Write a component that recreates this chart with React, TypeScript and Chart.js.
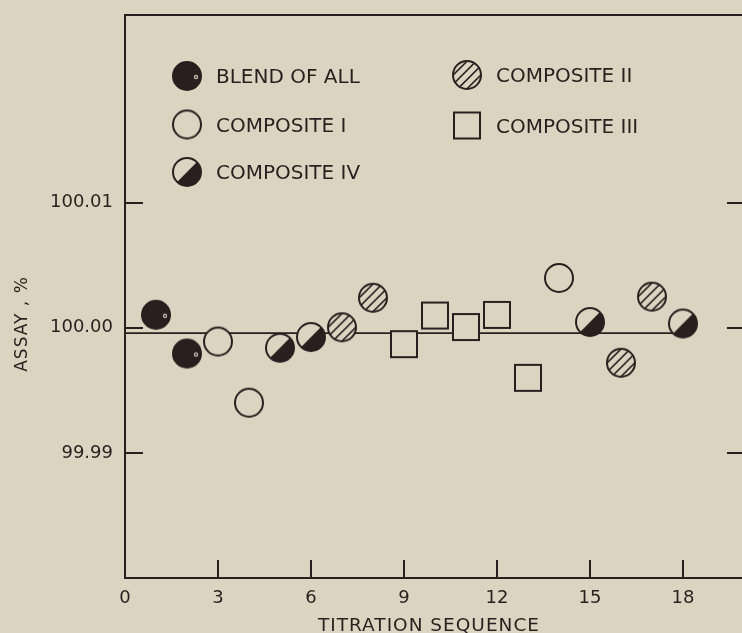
import React, { useEffect, useRef } from 'react';
import { Chart, registerables } from 'chart.js';

Chart.register(...registerables);

const INK = '#2a1f1f';
const BG = '#dcd3c1';

// Data
const BLEND_X = [1, 2];
const BLEND_Y = [100.00104, 99.99794];
const COMP1_X = [3, 4, 14];
const COMP1_Y = [99.9989, 99.99401, 100.00398];
const COMP2_X = [7, 8, 16, 17];
const COMP2_Y = [100.00004, 100.0024, 99.9972, 100.00249];
const COMP3_X = [9, 10, 11, 12, 13];
const COMP3_Y = [99.99869, 100.00098, 100.00006, 100.00103, 99.996];
const COMP4_X = [5, 6, 15, 18];
const COMP4_Y = [99.9984, 99.99926, 100.00046, 100.00034];
const MEAN_X = [0, 18];
const MEAN_Y = [99.99957, 99.99957];

const X_TICKS = [0, 3, 6, 9, 12, 15, 18];
const Y_TICKS = [99.99, 100.0, 100.01];

const SERIES_NAMES = ['BLEND OF ALL', 'COMPOSITE I', 'COMPOSITE IV', 'COMPOSITE II', 'COMPOSITE III'];
const SERIES_KINDS = ['blend', 'open', 'half', 'hatch', 'square'];

const X_TITLE = 'TITRATION SEQUENCE';
const Y_TITLE = 'ASSAY , %';

function makeMarker(kind: string): HTMLCanvasElement {
  const S = 36;
  const c = document.createElement('canvas');
  c.width = S;
  c.height = S;
  const g = c.getContext('2d') as CanvasRenderingContext2D;
  const cx = S / 2;
  const cy = S / 2;
  const r = 14;
  g.lineWidth = 2;
  g.strokeStyle = INK;
  if (kind === 'square') {
    const h = 13;
    g.fillStyle = BG;
    g.fillRect(cx - h, cy - h, 2 * h, 2 * h);
    g.strokeRect(cx - h, cy - h, 2 * h, 2 * h);
    return c;
  }
  g.beginPath();
  g.arc(cx, cy, r, 0, Math.PI * 2);
  g.fillStyle = kind === 'blend' ? INK : BG;
  g.fill();
  if (kind === 'half') {
    g.beginPath();
    g.arc(cx, cy, r, -Math.PI / 4, (3 * Math.PI) / 4);
    g.closePath();
    g.fillStyle = INK;
    g.fill();
  }
  if (kind === 'hatch') {
    g.save();
    g.beginPath();
    g.arc(cx, cy, r, 0, Math.PI * 2);
    g.clip();
    g.lineWidth = 1.6;
    for (const k of [-13.8, -4.6, 4.6, 13.8]) {
      g.beginPath();
      g.moveTo(cx + k / 2 - 20, cy + k / 2 + 20);
      g.lineTo(cx + k / 2 + 20, cy + k / 2 - 20);
      g.stroke();
    }
    g.restore();
  }
  g.beginPath();
  g.arc(cx, cy, r, 0, Math.PI * 2);
  g.lineWidth = 2;
  g.stroke();
  if (kind === 'blend') {
    g.beginPath();
    g.arc(cx + 9, cy + 1, 2.2, 0, Math.PI * 2);
    g.fillStyle = '#c9bfad';
    g.fill();
    g.beginPath();
    g.arc(cx + 9, cy + 1, 0.9, 0, Math.PI * 2);
    g.fillStyle = INK;
    g.fill();
  }
  return c;
}

function pts(xs: number[], ys: number[]) {
  return xs.map((x, i) => ({ x, y: ys[i] }));
}

function noPad(s: any) {
  s.paddingTop = 0;
  s.paddingBottom = 0;
  s.paddingLeft = 0;
  s.paddingRight = 0;
}

export default function App() {
  const ref = useRef<HTMLCanvasElement | null>(null);

  useEffect(() => {
    if (!ref.current) return;
    const markers: Record<string, HTMLCanvasElement> = {};
    SERIES_KINDS.forEach((k) => (markers[k] = makeMarker(k)));

    const seriesData = [
      pts(BLEND_X, BLEND_Y),
      pts(COMP1_X, COMP1_Y),
      pts(COMP4_X, COMP4_Y),
      pts(COMP2_X, COMP2_Y),
      pts(COMP3_X, COMP3_Y),
    ];

    const datasets: any[] = seriesData.map((d, i) => ({
      label: SERIES_NAMES[i],
      data: d,
      showLine: false,
      pointStyle: markers[SERIES_KINDS[i]],
      pointRadius: 14,
      order: 0,
    }));
    datasets.push({
      label: 'mean',
      data: pts(MEAN_X, MEAN_Y),
      showLine: true,
      borderColor: INK,
      borderWidth: 1.6,
      pointRadius: 0,
      order: 5,
    });

    const decor = {
      id: 'decor',
      afterDraw(chart: any) {
        const ctx = chart.ctx as CanvasRenderingContext2D;
        const { left, right, top, bottom } = chart.chartArea;
        const xs = chart.scales.x;
        const ys = chart.scales.y;
        ctx.save();
        ctx.strokeStyle = INK;
        ctx.lineWidth = 2;
        // top frame line
        ctx.beginPath();
        ctx.moveTo(left - 1, top);
        ctx.lineTo(right + 20, top);
        ctx.stroke();
        // inward tick marks
        const TL = 18;
        X_TICKS.forEach((v) => {
          if (v === 0) return;
          const px = Math.round(xs.getPixelForValue(v));
          ctx.beginPath();
          ctx.moveTo(px, bottom);
          ctx.lineTo(px, bottom - TL);
          ctx.stroke();
        });
        Y_TICKS.forEach((v) => {
          const py = Math.round(ys.getPixelForValue(v));
          ctx.beginPath();
          ctx.moveTo(left, py);
          ctx.lineTo(left + TL, py);
          ctx.moveTo(right - TL, py);
          ctx.lineTo(right, py);
          ctx.stroke();
        });
        // axis titles
        ctx.fillStyle = INK;
        ctx.font = '18.5px "DejaVu Sans"';
        (ctx as any).letterSpacing = '1px';
        ctx.textAlign = 'center';
        ctx.textBaseline = 'alphabetic';
        ctx.fillText(X_TITLE, 429, 631);
        ctx.save();
        ctx.translate(27, 324);
        ctx.rotate(-Math.PI / 2);
        ctx.font = '17px "DejaVu Sans"';
        ctx.fillText(Y_TITLE, 0, 0);
        ctx.restore();
        // legend
        (ctx as any).letterSpacing = '0px';
        ctx.font = '20px "DejaVu Sans"';
        ctx.textAlign = 'left';
        const legendPos = [
          [187, 76],
          [187, 124.5],
          [187, 172],
          [467, 75],
          [467, 125.5],
        ];
        SERIES_NAMES.forEach((name, i) => {
          const [mx, my] = legendPos[i];
          const m = markers[SERIES_KINDS[i]];
          ctx.drawImage(m, mx - m.width / 2, my - m.height / 2);
          ctx.fillText(name, mx + 29, my + 7.3);
        });
        ctx.restore();
      },
    };

    const chart = new Chart(ref.current, {
      type: 'scatter',
      data: { datasets },
      options: {
        animation: false,
        responsive: false,
        devicePixelRatio: 1,
        layout: { padding: { top: 12, right: 13.6, left: 0, bottom: 0 } },
        plugins: { legend: { display: false }, tooltip: { enabled: false } },
        scales: {
          x: {
            type: 'linear',
            min: 0,
            max: 20,
            afterFit: (s: any) => {
              s.height = 55;
              noPad(s);
            },
            afterBuildTicks: (s: any) => {
              s.ticks = X_TICKS.map((v) => ({ value: v }));
            },
            grid: { display: true, drawOnChartArea: false, drawTicks: false },
            border: { display: true, color: INK, width: 2 },
            ticks: {
              color: INK,
              padding: 10,
              maxRotation: 0,
              font: { family: 'DejaVu Sans', size: 18 },
              callback: (v: any) => String(v),
            },
          },
          y: {
            type: 'linear',
            min: 99.98,
            max: 100.025,
            afterFit: (s: any) => {
              s.width = 125;
              noPad(s);
            },
            afterBuildTicks: (s: any) => {
              s.ticks = Y_TICKS.map((v) => ({ value: v }));
            },
            grid: { display: true, drawOnChartArea: false, drawTicks: false },
            border: { display: true, color: INK, width: 2 },
            ticks: {
              color: INK,
              padding: 12,
              font: { family: 'DejaVu Sans', size: 18 },
              callback: (v: any) => Number(v).toFixed(2),
            },
          },
        },
      },
      plugins: [decor],
    } as any);

    return () => chart.destroy();
  }, []);

  return (
    <div
      style={{
        position: 'fixed',
        left: 0,
        top: 0,
        width: 742,
        height: 633,
        overflow: 'hidden',
        background: BG,
      }}
    >
      <canvas ref={ref} width={760} height={633} style={{ display: 'block' }} />
    </div>
  );
}
